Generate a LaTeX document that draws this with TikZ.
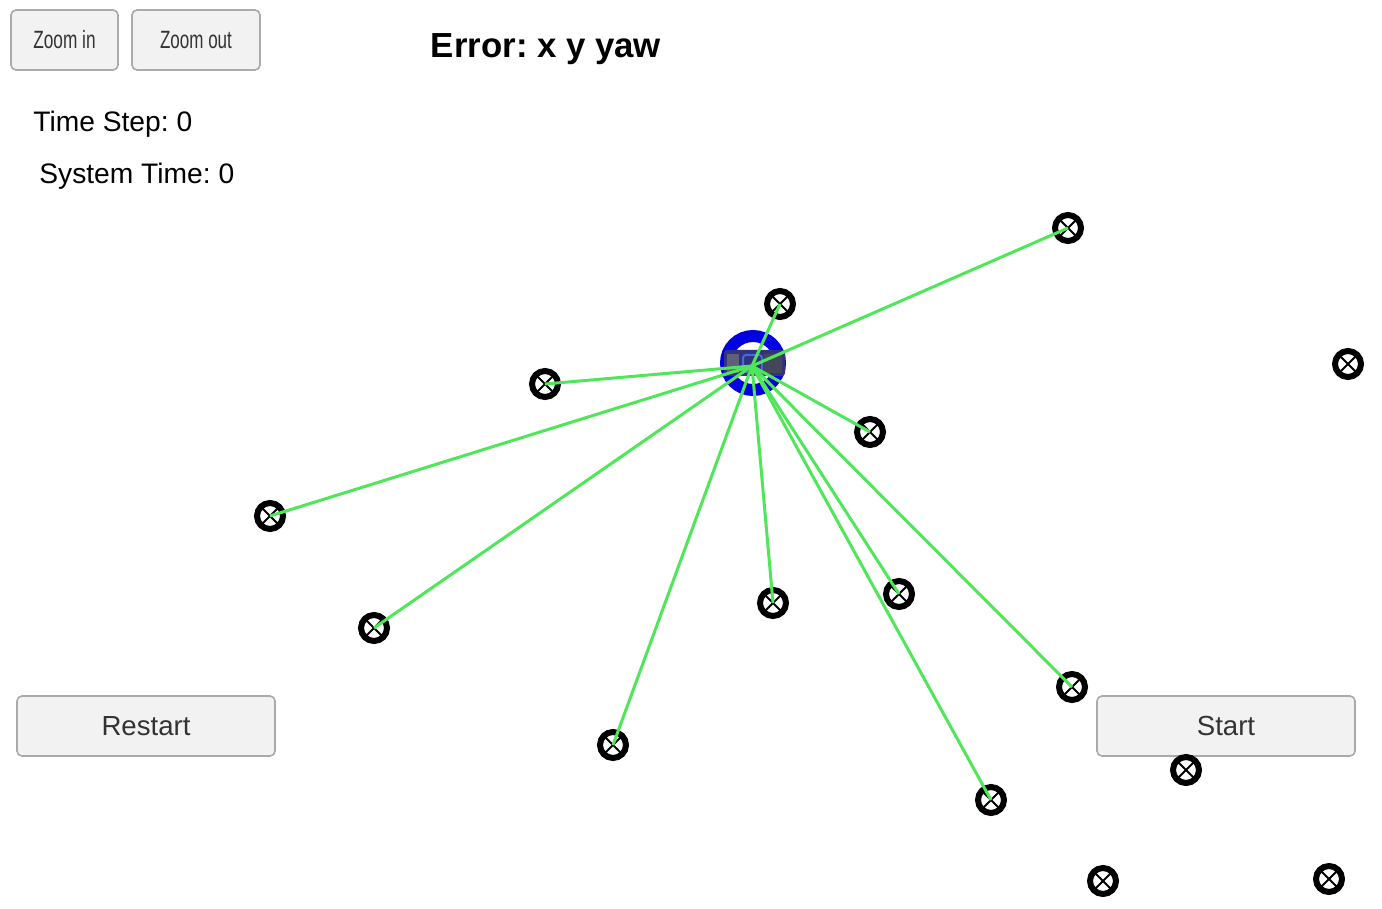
\documentclass[tikz,border=0pt]{standalone}
\usepackage{fontspec}
\setmainfont{Liberation Sans}
\frenchspacing
\definecolor{rayGreen}{RGB}{80,230,90}
\definecolor{carBlue}{RGB}{0,0,225}
\definecolor{carBody}{RGB}{50,50,125}
\definecolor{carRear}{RGB}{95,95,120}
\definecolor{carHood}{RGB}{70,70,90}
\definecolor{carGlass}{RGB}{60,110,230}
\definecolor{btnFill}{RGB}{242,242,242}
\definecolor{btnLine}{RGB}{170,170,170}
\tikzset{
    landmark/.style={circle, draw=black, line width=3pt, minimum size=13pt, inner sep=0pt,
        path picture={\draw[line width=1pt] (path picture bounding box.north east) -- (path picture bounding box.south west)
            (path picture bounding box.north west) -- (path picture bounding box.south east);}},
    ray/.style={rayGreen, line width=1.5pt},
    button/.style={draw=btnLine, fill=btnFill, line width=0.8pt, rounded corners=2.5pt,
        minimum height=30pt, inner sep=0pt, text=black!80},
    info/.style={anchor=west, inner sep=0pt, font=\fontsize{14.1}{17}\selectfont}
}
\begin{document}
\begin{tikzpicture}[x=0.5pt, y=-0.5pt]
    \useasboundingbox (0,0) rectangle (1382,909);

    % Buttons
    \node[button, minimum width=53.5pt] (zoomIn) at (64.5,40) {\fontsize{12.5}{15}\selectfont\scalebox{0.69}[1]{Zoom in}};
    \node[button, minimum width=64pt] (zoomOut) at (196,40) {\fontsize{12.5}{15}\selectfont\scalebox{0.68}[1]{Zoom out}};
    \node[button, minimum width=129pt, font=\fontsize{13.8}{16}\selectfont] (restart) at (146,726) {Restart};
    \node[button, minimum width=129pt, font=\fontsize{13.8}{16}\selectfont] (start) at (1226,726) {Start};

    % Title and counters
    \node[font=\fontsize{17.4}{20}\selectfont\bfseries] (title) at (546,49) {Error: x y yaw};
    \node[info] (timeStep) at (33,124) {Time Step: 0};
    \node[info] (sysTime) at (39,176) {System Time: 0};

    % Landmarks
    \node[landmark] (lm1) at (1068,228) {};
    \node[landmark] (lm2) at (780,304) {};
    \node[landmark] (lm3) at (1348,364) {};
    \node[landmark] (lm4) at (545,384) {};
    \node[landmark] (lm5) at (870,432) {};
    \node[landmark] (lm6) at (270,516) {};
    \node[landmark] (lm7) at (374,628) {};
    \node[landmark] (lm8) at (773,603) {};
    \node[landmark] (lm9) at (899,594) {};
    \node[landmark] (lm10) at (1072,687) {};
    \node[landmark] (lm11) at (613,745) {};
    \node[landmark] (lm12) at (991,800) {};
    \node[landmark] (lm13) at (1186,770) {};
    \node[landmark] (lm14) at (1103,881) {};
    \node[landmark] (lm15) at (1329,879) {};

    % Vehicle
    \node[circle, draw=carBlue, line width=6pt, minimum size=27pt, inner sep=0pt] (car) at (753,363) {};
    \fill[carBody, rounded corners=1.5pt] (724,350) rectangle (785,376);
    \fill[carRear] (727,354) rectangle (739,373);
    \fill[carHood] (764,354) rectangle (782,373);
    \draw[carGlass, line width=1pt, rounded corners=1.5pt] (743,355) rectangle (762,372);
    \coordinate (hub) at (752,366);

    % Observations
    \draw[ray] (hub) -- (lm1.center);
    \draw[ray] (hub) -- (lm2.center);
    \draw[ray] (hub) -- (lm4.center);
    \draw[ray] (hub) -- (lm5.center);
    \draw[ray] (hub) -- (lm6.center);
    \draw[ray] (hub) -- (lm7.center);
    \draw[ray] (hub) -- (lm8.center);
    \draw[ray] (hub) -- (lm9.center);
    \draw[ray] (hub) -- (lm10.center);
    \draw[ray] (hub) -- (lm11.center);
    \draw[ray] (hub) -- (lm12.center);
\end{tikzpicture}
\end{document}
